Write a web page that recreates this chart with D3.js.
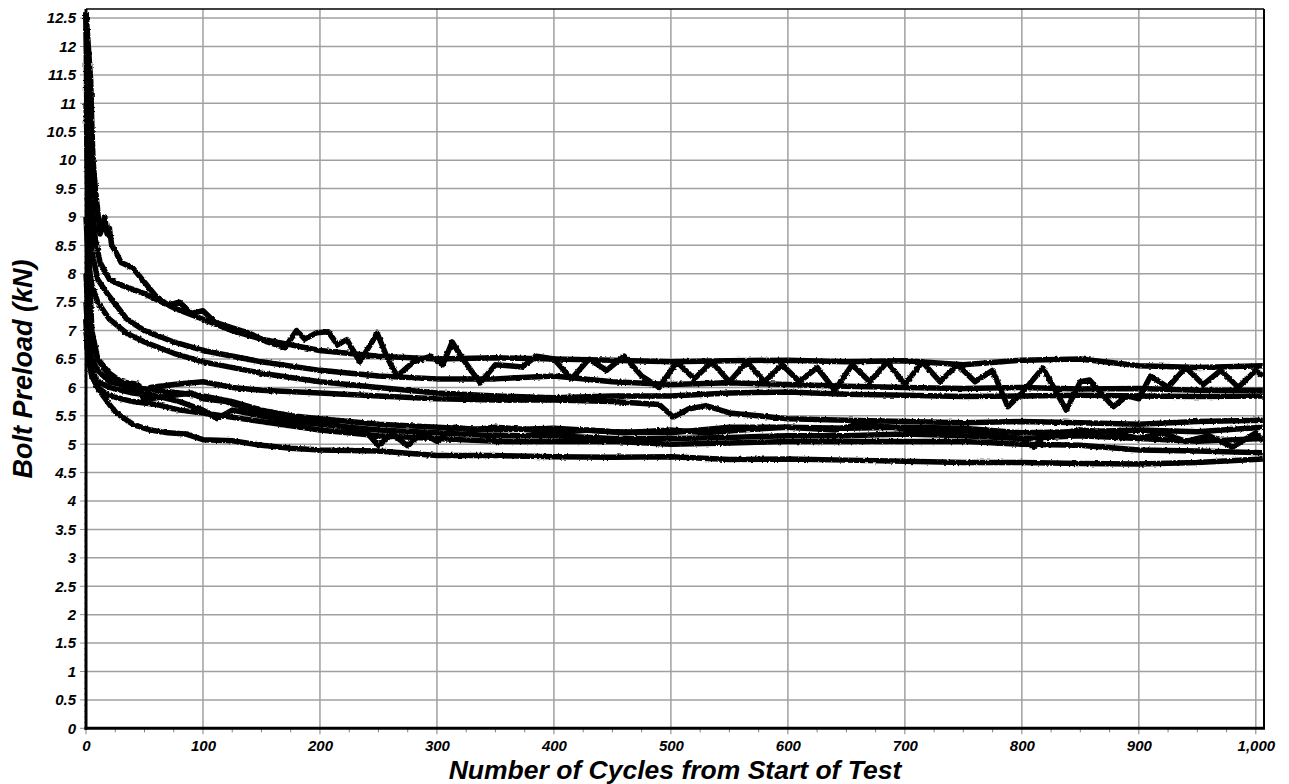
<!DOCTYPE html>
<html>
<head>
<meta charset="utf-8">
<script src="https://cdn.jsdelivr.net/npm/d3@7"></script>
<style>
  body { margin: 0; background: #fff; }
  svg { display: block; }
  .tick text { font-family: "Liberation Sans", Arial, sans-serif; font-weight: bold; font-style: italic; font-size: 15px; fill: #000; }
  .title { font-family: "Liberation Sans", Arial, sans-serif; font-weight: bold; font-style: italic; fill: #000; }
</style>
</head>
<body>
<svg id="chart" width="1289" height="784"></svg>
<script>
// tick values
const xTicks = [0, 100, 200, 300, 400, 500, 600, 700, 800, 900, 1000];
const yTicks = d3.range(0, 12.51, 0.5);

// series: [cycle, kN]
const smoothTop = [[0,12.6],[1,11.5],[3,10.2],[5,9.3],[8,8.6],[12,8.2],[20,7.9],[30,7.8],[50,7.65],[75,7.4],[100,7.2],[125,7.0],[150,6.85],[200,6.65],[250,6.55],[300,6.5],[350,6.52],[400,6.5],[450,6.48],[500,6.45],[550,6.47],[600,6.48],[650,6.45],[700,6.47],[750,6.4],[800,6.48],[850,6.5],[900,6.38],[950,6.35],[1006,6.38]];
const jaggedTop = [[0,12.6],[2,12.0],[4,11.4],[5,10.6],[6,10.0],[8,9.5],[10,9.1],[12,8.7],[14,8.8],[16,9.0],[18,8.7],[20,8.8],[22,8.5],[25,8.4],[30,8.2],[40,8.1],[50,7.85],[60,7.6],[70,7.45],[80,7.5],[90,7.3],[100,7.35],[110,7.15],[125,7.05],[140,6.95],[155,6.8],[170,6.7],[180,7.0],[187,6.85],[197,6.96],[207,6.98],[215,6.75],[223,6.84],[234,6.45],[249,6.95],[258,6.5],[266,6.2],[280,6.45],[295,6.55],[305,6.4],[313,6.8],[322,6.5],[337,6.08],[350,6.4],[373,6.36],[385,6.55],[400,6.5],[415,6.15],[430,6.5],[445,6.3],[460,6.55],[475,6.2],[490,6.0],[505,6.45],[520,6.15],[535,6.45],[550,6.1],[565,6.45],[580,6.1],[595,6.4],[610,6.1],[625,6.35],[640,5.95],[655,6.4],[670,6.1],[685,6.45],[700,6.05],[715,6.45],[730,6.1],[745,6.4],[760,6.1],[775,6.3],[788,5.66],[800,5.9],[818,6.34],[838,5.6],[850,6.1],[858,6.13],[878,5.66],[890,5.85],[900,5.8],[910,6.2],[925,6.0],[940,6.35],[955,6.05],[970,6.3],[985,6.0],[1000,6.3],[1006,6.2]];
const sixLine = [[0,11],[2,9.5],[5,8.4],[10,7.9],[20,7.6],[35,7.2],[50,7.0],[75,6.8],[100,6.65],[150,6.45],[200,6.3],[250,6.2],[300,6.15],[350,6.15],[400,6.2],[450,6.1],[500,6.05],[550,6.08],[600,6.05],[650,6.02],[700,6.0],[750,5.98],[800,6.0],[850,5.97],[900,5.98],[950,5.95],[1006,5.95]];
const lineD = [[0,9],[2,8.2],[5,7.8],[10,7.5],[20,7.2],[35,6.95],[50,6.8],[75,6.6],[100,6.45],[150,6.25],[200,6.1],[250,6.0],[300,5.9],[350,5.85],[400,5.82],[450,5.85],[500,5.85],[550,5.9],[600,5.92],[650,5.88],[700,5.86],[750,5.84],[800,5.85],[850,5.86],[900,5.85],[950,5.84],[1006,5.85]];
const lineE = [[0,8],[2,7.2],[5,6.8],[10,6.5],[20,6.25],[30,6.1],[45,6.05],[50,5.75],[55,6.0],[75,6.05],[100,6.1],[125,6.0],[150,5.95],[200,5.9],[250,5.85],[300,5.8],[350,5.78],[400,5.78],[450,5.75],[490,5.7],[502,5.48],[515,5.62],[530,5.68],[550,5.55],[600,5.45],[650,5.42],[700,5.4],[750,5.38],[800,5.4],[850,5.38],[900,5.35],[950,5.4],[1006,5.42]];
const lineF = [[0,7.5],[2,6.8],[5,6.5],[10,6.3],[20,6.1],[40,6.0],[60,5.95],[80,5.9],[100,5.85],[125,5.75],[150,5.6],[175,5.5],[200,5.45],[250,5.35],[300,5.3],[350,5.25],[400,5.28],[450,5.22],[500,5.2],[550,5.3],[600,5.3],[650,5.28],[700,5.3],[750,5.28],[800,5.2],[850,5.22],[900,5.25],[950,5.22],[1006,5.3]];
const lineG = [[0,7.2],[2,6.6],[5,6.3],[10,6.1],[20,6.0],[40,5.9],[60,5.85],[80,5.75],[100,5.6],[112,5.45],[125,5.6],[150,5.5],[175,5.4],[200,5.35],[250,5.25],[300,5.2],[350,5.15],[400,5.15],[450,5.1],[500,5.1],[550,5.12],[600,5.15],[650,5.15],[700,5.18],[750,5.15],[800,5.1],[850,5.15],[900,5.1],[950,5.05],[1006,5.1]];
const lineH = [[0,7.0],[2,6.5],[5,6.2],[10,6.0],[20,5.85],[40,5.75],[60,5.7],[80,5.6],[100,5.55],[150,5.4],[200,5.25],[250,5.15],[300,5.1],[350,5.05],[400,5.05],[450,5.05],[500,5.0],[550,5.02],[600,5.05],[650,5.05],[700,5.05],[750,5.05],[800,5.0],[850,4.98],[900,4.9],[950,4.88],[1006,4.85]];
const jaggedLow = [[0,12.6],[1,10],[3,8.0],[5,7.0],[10,6.5],[20,6.2],[30,6.05],[40,5.95],[55,5.8],[70,5.85],[90,5.9],[100,5.8],[120,5.75],[140,5.6],[160,5.5],[180,5.4],[200,5.4],[220,5.3],[240,5.2],[250,4.98],[262,5.18],[275,4.97],[287,5.2],[300,5.05],[315,5.3],[330,5.25],[350,5.3],[380,5.25],[400,5.2],[430,5.25],[460,5.2],[500,5.25],[530,5.2],[560,5.25],[600,5.3],[640,5.25],[660,5.35],[690,5.3],[720,5.2],[750,5.25],[780,5.15],[800,5.1],[810,4.95],[820,5.15],[850,5.25],[880,5.2],[900,5.1],[920,5.2],[940,5.05],[960,5.15],[980,4.95],[1000,5.2],[1006,5.05]];
const lowest = [[0,7.2],[1,6.7],[5,6.2],[10,6.0],[15,5.84],[20,5.7],[26,5.55],[35,5.42],[41,5.34],[55,5.25],[70,5.2],[85,5.18],[100,5.08],[125,5.06],[150,4.98],[175,4.93],[200,4.9],[250,4.88],[300,4.8],[350,4.8],[400,4.78],[450,4.77],[500,4.78],[550,4.73],[600,4.74],[650,4.72],[700,4.7],[750,4.68],[800,4.68],[850,4.66],[900,4.65],[950,4.68],[1006,4.74]];

const allSeries = [smoothTop, jaggedTop, sixLine, lineD, lineE, lineF, lineG, lineH, jaggedLow, lowest];

const svg = d3.select("#chart");
const plotLeft = 86, plotRight = 1264, plotTop = 9, plotBottom = 728.3;

const x = d3.scaleLinear().domain([0, 1007]).range([plotLeft, plotRight]);
const y = d3.scaleLinear().domain([0, 12.66]).range([plotBottom, plotTop]);

// rough edge on the traces, like the sampled signal in the original
const filt = svg.append("defs").append("filter").attr("id", "rough")
    .attr("x", "-2%").attr("y", "-2%").attr("width", "104%").attr("height", "104%");
filt.append("feTurbulence").attr("type", "fractalNoise").attr("baseFrequency", 0.45)
    .attr("numOctaves", 1).attr("seed", 3).attr("result", "noise");
filt.append("feDisplacementMap").attr("in", "SourceGraphic").attr("in2", "noise")
    .attr("scale", 3).attr("xChannelSelector", "R").attr("yChannelSelector", "G");

// grid
svg.append("g").selectAll("line").data(xTicks.filter(d => d > 0)).enter().append("line")
    .attr("x1", d => x(d)).attr("x2", d => x(d)).attr("y1", plotTop).attr("y2", plotBottom)
    .attr("stroke", "#a0a0a0").attr("stroke-width", 1.5);
svg.append("g").selectAll("line").data(yTicks.filter(d => d > 0)).enter().append("line")
    .attr("x1", plotLeft).attr("x2", plotRight).attr("y1", d => y(d)).attr("y2", d => y(d))
    .attr("stroke", "#a0a0a0").attr("stroke-width", 1.5);

// minor ticks
svg.append("g").selectAll("line").data(d3.range(0, 1001, 25)).enter().append("line")
    .attr("x1", d => x(d)).attr("x2", d => x(d)).attr("y1", plotBottom).attr("y2", d => plotBottom + (d % 100 === 0 ? 6 : 4))
    .attr("stroke", "#808080").attr("stroke-width", 1);
svg.append("g").selectAll("line").data(d3.range(0, 126, 1)).enter().append("line")
    .attr("x1", d => plotLeft - (d % 5 === 0 ? 6 : 2)).attr("x2", plotLeft).attr("y1", d => y(d / 10)).attr("y2", d => y(d / 10))
    .attr("stroke", "#909090").attr("stroke-width", 1);

// series
const line = d3.line().x(d => x(d[0])).y(d => y(d[1]));
svg.append("g").attr("filter", "url(#rough)").selectAll("path").data(allSeries).enter().append("path")
    .attr("d", line)
    .attr("fill", "none")
    .attr("stroke", "#000")
    .attr("stroke-width", 5.5)
    .attr("stroke-linejoin", "round");

// frame
svg.append("line").attr("x1", plotLeft).attr("x2", plotRight).attr("y1", plotTop).attr("y2", plotTop).attr("stroke", "#000").attr("stroke-width", 1.5);
svg.append("line").attr("x1", plotRight).attr("x2", plotRight).attr("y1", plotTop).attr("y2", plotBottom).attr("stroke", "#000").attr("stroke-width", 2);
svg.append("line").attr("x1", plotLeft).attr("x2", plotLeft).attr("y1", plotTop).attr("y2", plotBottom + 1.5).attr("stroke", "#000").attr("stroke-width", 3);
svg.append("line").attr("x1", plotLeft - 1.5).attr("x2", plotRight + 1).attr("y1", plotBottom).attr("y2", plotBottom).attr("stroke", "#000").attr("stroke-width", 3);

// axes labels
const xAxis = d3.axisBottom(x).tickValues(xTicks).tickSize(0).tickPadding(12).tickFormat(d3.format(","));
svg.append("g").attr("transform", `translate(0,${plotBottom})`).call(xAxis).call(g => g.select(".domain").remove());
const yAxis = d3.axisLeft(y).tickValues(yTicks).tickSize(0).tickPadding(10).tickFormat(d => String(+d.toFixed(1)));
svg.append("g").attr("transform", `translate(${plotLeft},0)`).call(yAxis).call(g => g.select(".domain").remove());

svg.append("text").attr("class", "title")
    .attr("x", 675).attr("y", 778.5)
    .attr("font-size", 26.5)
    .attr("text-anchor", "middle")
    .text("Number of Cycles from Start of Test");
svg.append("text").attr("class", "title")
    .attr("transform", "translate(32,369) rotate(-90)")
    .attr("font-size", 27)
    .attr("text-anchor", "middle")
    .text("Bolt Preload (kN)");
</script>
</body>
</html>
